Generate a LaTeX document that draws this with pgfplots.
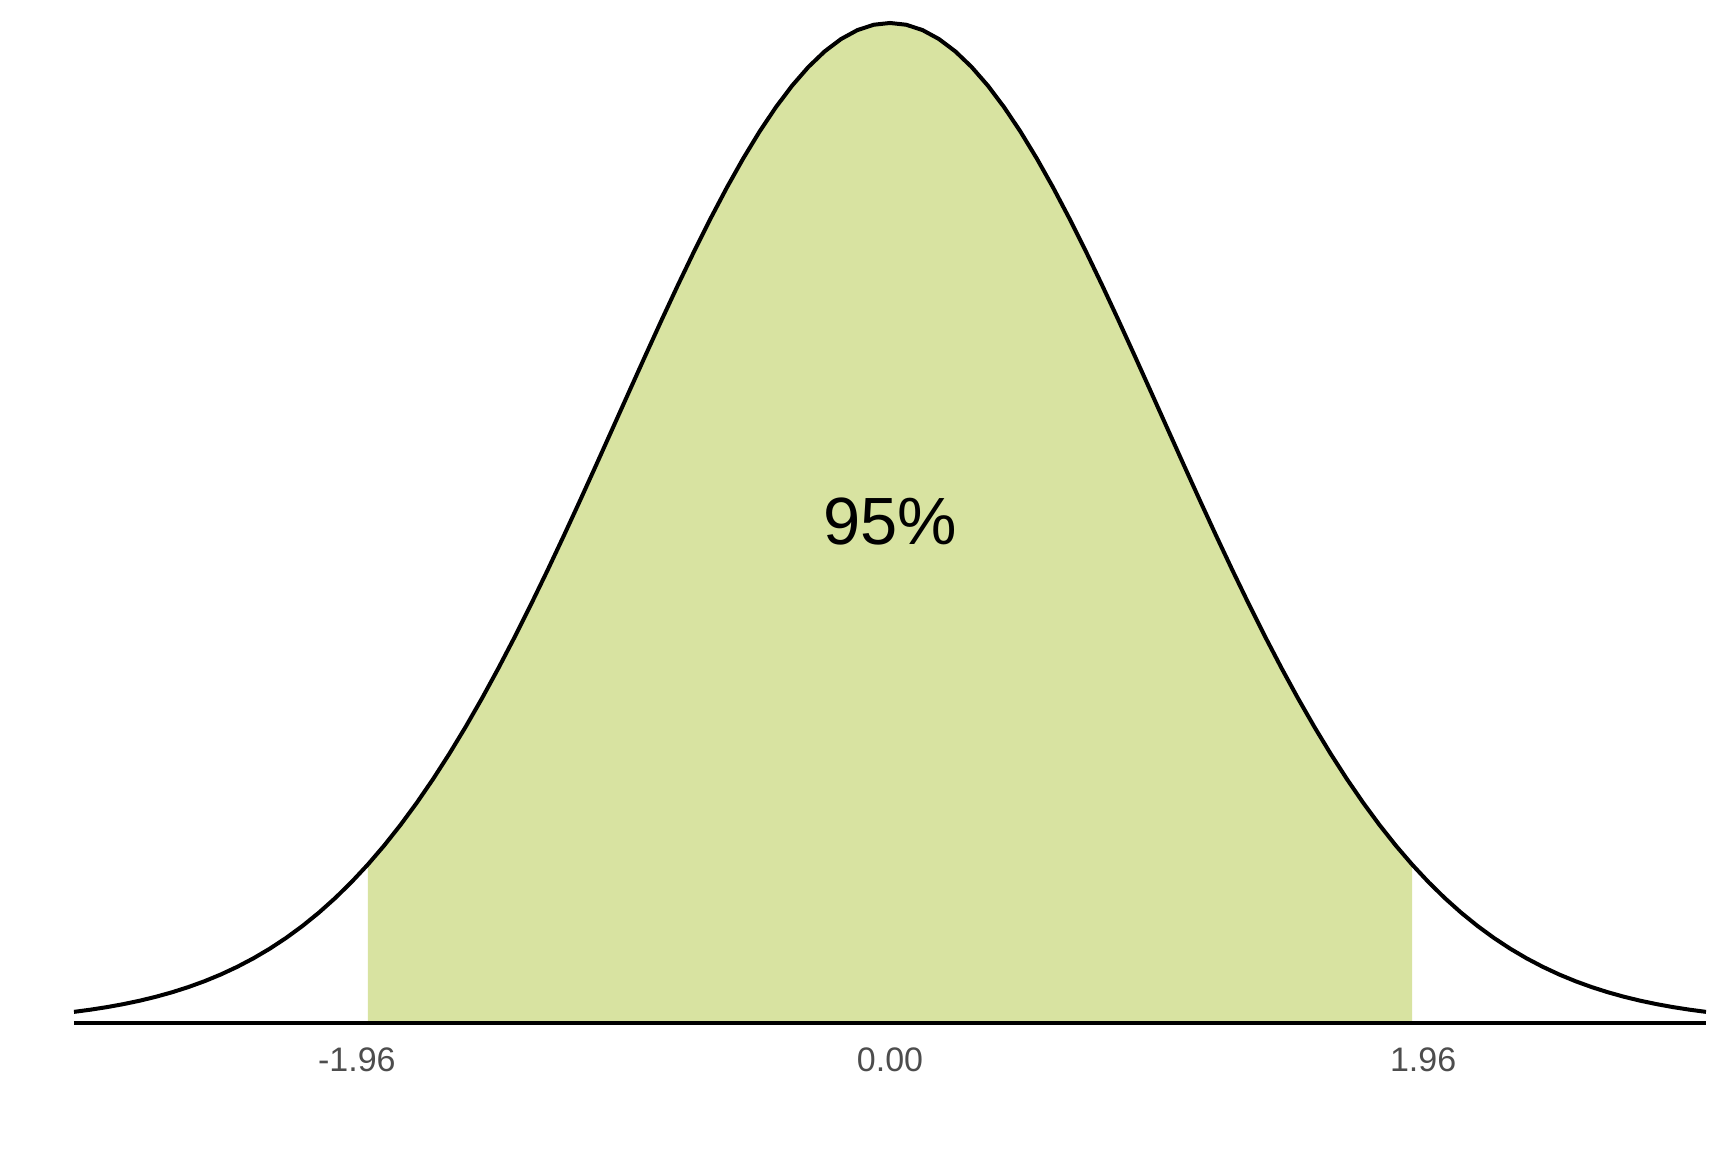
\documentclass[border=0pt]{standalone}
\usepackage{pgfplots}
\usepackage{pgfplotstable}
\pgfplotsset{compat=1.18}
\usepackage{fontspec}
\setmainfont{Liberation Sans}
\definecolor{shade}{HTML}{D8E3A1}
\definecolor{tickgrey}{HTML}{4D4D4D}
\pgfplotstableread{
x y
-3.00 0.004432
-2.94 0.005296
-2.88 0.006307
-2.82 0.007483
-2.76 0.008846
-2.70 0.010421
-2.64 0.012232
-2.58 0.014305
-2.52 0.016670
-2.46 0.019356
-2.40 0.022395
-2.34 0.025817
-2.28 0.029655
-2.22 0.033941
-2.16 0.038706
-2.10 0.043984
-2.04 0.049800
-1.98 0.056183
-1.92 0.063156
-1.86 0.070741
-1.80 0.078950
-1.74 0.087797
-1.68 0.097283
-1.62 0.107406
-1.56 0.118158
-1.50 0.129518
-1.44 0.141460
-1.38 0.153948
-1.32 0.166939
-1.26 0.180371
-1.20 0.194186
-1.14 0.208307
-1.08 0.222653
-1.02 0.237132
-0.96 0.251644
-0.90 0.266085
-0.84 0.280345
-0.78 0.294305
-0.72 0.307851
-0.66 0.320864
-0.60 0.333225
-0.54 0.344818
-0.48 0.355533
-0.42 0.365263
-0.36 0.373911
-0.30 0.381388
-0.24 0.387617
-0.18 0.392531
-0.12 0.396080
-0.06 0.398225
0.00 0.398942
0.06 0.398225
0.12 0.396080
0.18 0.392531
0.24 0.387617
0.30 0.381388
0.36 0.373911
0.42 0.365263
0.48 0.355533
0.54 0.344818
0.60 0.333225
0.66 0.320864
0.72 0.307851
0.78 0.294305
0.84 0.280345
0.90 0.266085
0.96 0.251644
1.02 0.237132
1.08 0.222653
1.14 0.208307
1.20 0.194186
1.26 0.180371
1.32 0.166939
1.38 0.153948
1.44 0.141460
1.50 0.129518
1.56 0.118158
1.62 0.107406
1.68 0.097283
1.74 0.087797
1.80 0.078950
1.86 0.070741
1.92 0.063156
1.98 0.056183
2.04 0.049800
2.10 0.043984
2.16 0.038706
2.22 0.033941
2.28 0.029655
2.34 0.025817
2.40 0.022395
2.46 0.019356
2.52 0.016670
2.58 0.014305
2.64 0.012232
2.70 0.010421
2.76 0.008846
2.82 0.007483
2.88 0.006307
2.94 0.005296
3.00 0.004432
}\dens
\begin{document}
\begin{tikzpicture}
\useasboundingbox (-18.5pt,-32.25pt) rectangle (413.5pt,255.75pt);
\begin{axis}[
  at={(0,0)}, anchor=south west,
  scale only axis, width=408pt, height=250pt,
  xmin=-3, xmax=3, ymin=0, ymax=0.398942,
  axis x line=bottom, axis y line=none,
  axis line style={-, line width=0.85pt, black},
  xtick={-1.96,0,1.96}, xticklabels={-1.96,0.00,1.96},
  ytick=\empty,
  major tick length=0pt,
  xticklabel style={font=\fontsize{8.5}{9.5}\selectfont, text=tickgrey, inner sep=0pt, anchor=north, yshift=-6pt},
  clip=false, axis on top,
]
\addplot[draw=none, fill=shade, restrict x to domain=-1.93:1.93] table {\dens} \closedcycle;
\addplot[black, line width=1pt] table {\dens};
\node[anchor=base, font=\fontsize{16.7}{19}\selectfont] at (axis cs:0,0.191) {95\%};
\end{axis}
\end{tikzpicture}
\end{document}
